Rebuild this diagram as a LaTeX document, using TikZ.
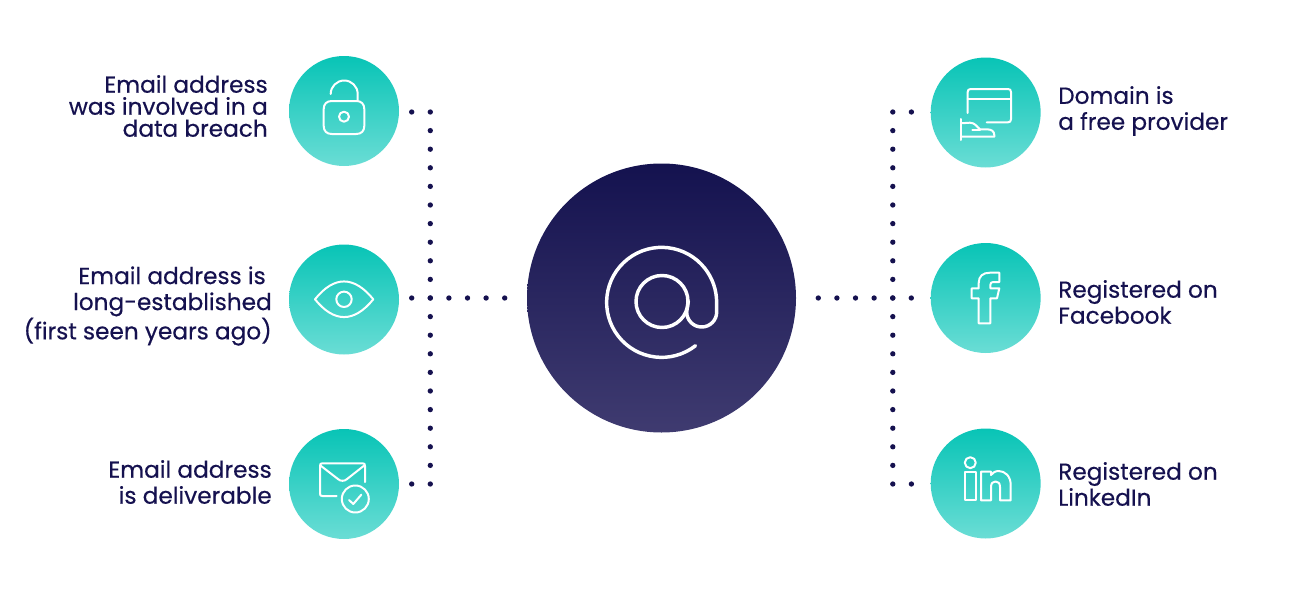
\documentclass[tikz,border=0pt]{standalone}
\usepackage{fontspec}
\setmainfont{Poppins}[FakeBold=0.45]
\usetikzlibrary{calc}
\definecolor{inkblue}{HTML}{15114F}
\definecolor{nighttop}{HTML}{14124F}
\definecolor{nightbot}{HTML}{3F3B70}
\definecolor{tealtop}{HTML}{08C4B6}
\definecolor{tealbot}{HTML}{6ADDD5}
\tikzset{
  badge/.style={circle,inner sep=0pt,minimum size=82.5pt,shading=axis,top color=tealtop,bottom color=tealbot},
  hub/.style={circle,inner sep=0pt,minimum size=201.75pt,shading=axis,top color=nighttop,bottom color=nightbot},
  icon/.style={draw=white,line width=1.5pt,line cap=round,line join=round},
  bigicon/.style={icon,line width=2.6pt},
  dotline/.style={draw=inkblue,line width=4pt,line cap=round,dash pattern=on 0pt off 13.95pt},
  caption/.style={inner sep=0pt,text=inkblue,font=\fontsize{17.4pt}{19.5pt}\selectfont},
  captionl/.style={caption,anchor=east,align=right},
  captionr/.style={caption,anchor=west,align=left},
}
\begin{document}
\begin{tikzpicture}[x=0.75pt,y=0.75pt,yscale=-1,xscale=1]
\useasboundingbox (0,0) rectangle (1290,596);

%Shape: Circle
\node[hub] (hub) at (661.5,298) {};
\node[badge] (lock) at (344,111) {};
\node[badge] (eye) at (344,299.5) {};
\node[badge] (mail) at (344,484) {};
\node[badge] (domain) at (985.7,112.5) {};
\node[badge] (fb) at (985.7,298) {};
\node[badge] (linkedin) at (985.7,483.5) {};

%Dotted Lines
\coordinate (ltop) at (430.3,112);
\coordinate (lbot) at (430.3,484.1);
\coordinate (rtop) at (892.8,112);
\coordinate (rbot) at (892.8,484.1);
\draw[dotline] (ltop) -- (lbot);
\draw[dotline] (rtop) -- (rbot);
\draw[dotline] (411.7,112) -- ++(1,0);
\draw[dotline] (411.7,484) -- ++(1,0);
\draw[dotline] (911.4,112) -- ++(1,0);
\draw[dotline] (911.4,484) -- ++(1,0);
\coordinate (lmid) at (411.7,298);
\coordinate (lend) at (504.8,298);
\coordinate (rmid) at (818.3,298);
\coordinate (rend) at (911.4,298);
\draw[dotline] (lmid) -- (lend);
\draw[dotline] (rmid) -- (rend);

%Labels
\node[captionl,font=\fontsize{17.4pt}{16.5pt}\selectfont] (locktext) at (268,106) {Email address\\was involved in a\\data breach};
\node[captionl] (eyetext) at (272,306) {Email address is\kern4.5pt\\long-established\\(first seen years ago)};
\node[captionl] (mailtext) at (272,482) {Email address\\is deliverable};
\node[captionr] (domaintext) at (1058,111) {Domain is\\a free provider};
\node[captionr] (fbtext) at (1058,302) {Registered on\\Facebook};
\node[captionr] (linkedintext) at (1058,484) {Registered on\\LinkedIn};

%Icon: At sign
\draw[bigicon] (662,301.5) circle (26);
\draw[bigicon] (695.5,345.7) arc[start angle=52,end angle=360,radius=55] -- (716.7,312) arc[start angle=0,end angle=180,radius=15] -- (688.3,301);

%Icon: Lock
\draw[icon] (323.7,109) .. controls (323.7,104) and (326.7,101) .. (331.7,101) -- (356.3,101) .. controls (361.3,101) and (364.3,104) .. (364.3,109) -- (364.3,126) .. controls (364.3,131) and (361.3,134) .. (356.3,134) -- (331.7,134) .. controls (326.7,134) and (323.7,131) .. (323.7,126) -- cycle;
\draw[icon] (344,116.7) circle (5);
\draw[icon] (330.7,94) arc[start angle=180,end angle=360,radius=13.5] -- (357.7,101);

%Icon: Eye
\draw[icon] (315,299.3) .. controls (334,275.5) and (354,275.5) .. (373.3,299.3) .. controls (354,323) and (334,323) .. (315,299.3) -- cycle;
\draw[icon] (344,299.3) circle (7.7);

%Icon: Envelope
\draw[icon] (365,482) -- (365,466) .. controls (365,464) and (364.5,463.3) .. (362.5,463.3) -- (322.5,463.3) .. controls (320.5,463.3) and (320,464) .. (320,466) -- (320,493.5) .. controls (320,495.5) and (320.5,496) .. (322.5,496) -- (336.7,496);
\draw[icon] (320.7,465.7) -- (338.3,479.3) .. controls (340.5,481.3) and (344.5,481.3) .. (346.7,479.3) -- (364,465.7);
\draw[icon] (355.3,499) circle (13.5);
\draw[icon] (349,500) -- (353.3,504) -- (361.3,494.7);

%Icon: Browser and hand
\draw[icon] (967.7,113) -- (967.7,92) .. controls (967.7,90) and (968.7,89) .. (970.7,89) -- (1008,89) .. controls (1010,89) and (1011,90) .. (1011,92) -- (1011,119.3) .. controls (1011,121.3) and (1010,122.3) .. (1008,122.3) -- (986.7,122.3);
\draw[icon] (967.7,99.3) -- (1011,99.3);
\draw[icon] (961,119) -- (961,140);
\draw[icon] (961,123.3) -- (970,122.7) .. controls (975,122.7) and (977,127) .. (980,129.3) -- (986.7,129.3) .. controls (991,129.3) and (994.3,131) .. (994.3,135) -- (994.3,136.7) -- (961,136.7);
\draw[icon] (972.3,130) -- (980,130);

%Icon: Facebook
\draw[icon] (978.7,323.3) -- (990.3,323.3) -- (990.3,298.3) -- (997,298.3) -- (999.3,288.3) -- (990.3,288.3) -- (990.3,285) .. controls (990.3,283) and (991.3,282) .. (993.3,282) -- (999.3,282) -- (999.3,272.7) -- (990,272.7) .. controls (983,272.7) and (978.7,276) .. (978.7,283) -- (978.7,288.3) -- (971.7,288.3) -- (971.7,298.3) -- (978.7,298.3) -- cycle;

%Icon: LinkedIn
\draw[icon] (970.3,462.7) circle (5.5);
\draw[icon] (965.3,471.7) rectangle (975.7,500.3);
\draw[icon] (981,500.3) -- (991,500.3) -- (991,487) .. controls (991,483) and (993,481.5) .. (995.5,481.5) .. controls (998,481.5) and (1000,483) .. (1000,487) -- (1000,500.3) -- (1010.7,500.3) -- (1010.7,485) .. controls (1010.7,476) and (1005,471) .. (998.5,471) .. controls (995,471) and (992.5,473) .. (991,475) -- (991,471.7) -- (981,471.7) -- cycle;
\end{tikzpicture}
\end{document}
